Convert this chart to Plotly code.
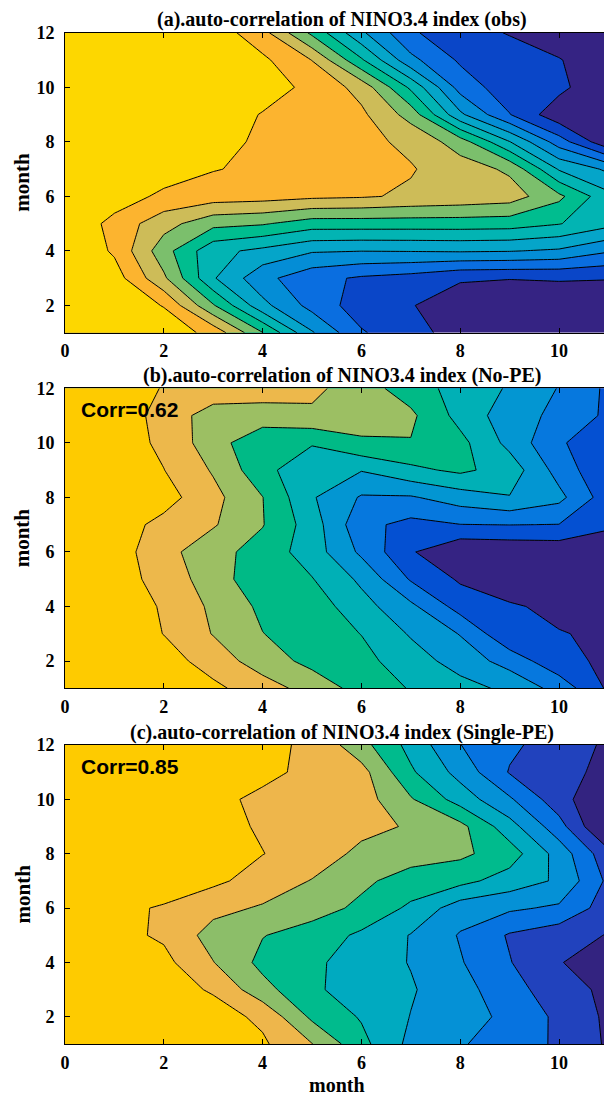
import plotly.graph_objects as go

# axes: lead month (x) and start month (y)
lead = list(range(12))
month = list(range(1, 13))

# (a) observed auto-correlation, one row per month 1..12, columns = lead 0..11
obs = [
    [1.0, 0.98, 0.962, 0.868, 0.603, 0.31, 0.11, 0.03, -0.035, -0.06, -0.07, -0.08],
    [1.0, 0.967, 0.895, 0.61, 0.33, 0.165, 0.05, 0.005, -0.05, -0.06, -0.06, -0.06],
    [1.0, 0.948, 0.718, 0.41, 0.23, 0.133, 0.086, 0.06, 0.01, 0.003, 0.008, 0.004],
    [1.0, 0.885, 0.64, 0.43, 0.374, 0.31, 0.302, 0.305, 0.31, 0.305, 0.285, 0.21],
    [1.0, 0.863, 0.74, 0.63, 0.61, 0.55, 0.551, 0.55, 0.55, 0.545, 0.505, 0.43],
    [1.0, 0.96, 0.875, 0.85, 0.84, 0.82, 0.81, 0.786, 0.77, 0.749, 0.623, 0.43],
    [1.0, 0.99, 0.96, 0.905, 0.88, 0.86, 0.83, 0.807, 0.75, 0.682, 0.39, 0.28],
    [1.0, 0.99, 0.97, 0.93, 0.885, 0.855, 0.825, 0.78, 0.65, 0.404, 0.15, -0.08],
    [1.0, 0.99, 0.98, 0.95, 0.895, 0.85, 0.82, 0.66, 0.32, 0.104, -0.07, -0.08],
    [1.0, 0.99, 0.98, 0.96, 0.94, 0.878, 0.764, 0.48, 0.16, 0.04, 0.03, -0.1],
    [1.0, 0.99, 0.98, 0.96, 0.92, 0.798, 0.514, 0.228, 0.085, 0.04, 0.005, -0.06],
    [1.0, 0.99, 0.98, 0.96, 0.835, 0.578, 0.318, 0.115, 0.032, -0.005, -0.05, -0.08],
]

# (b) No-PE experiment
no_pe = [
    [1.0, 0.99, 0.96, 0.92, 0.851, 0.755, 0.666, 0.593, 0.536, 0.478, 0.363, 0.183],
    [1.0, 0.975, 0.94, 0.86, 0.745, 0.674, 0.63, 0.547, 0.458, 0.36, 0.23, 0.18],
    [1.0, 0.965, 0.898, 0.795, 0.702, 0.65, 0.598, 0.49, 0.395, 0.215, 0.206, 0.18],
    [1.0, 0.96, 0.89, 0.78, 0.679, 0.655, 0.538, 0.423, 0.259, 0.215, 0.17, 0.15],
    [1.0, 0.95, 0.86, 0.75, 0.63, 0.605, 0.48, 0.29, 0.187, 0.12, 0.10, 0.10],
    [1.0, 0.95, 0.835, 0.735, 0.66, 0.55, 0.38, 0.21, 0.11, 0.12, 0.13, 0.16],
    [1.0, 0.95, 0.87, 0.81, 0.705, 0.55, 0.33, 0.27, 0.298, 0.302, 0.298, 0.21],
    [1.0, 0.98, 0.94, 0.83, 0.702, 0.51, 0.39, 0.39, 0.45, 0.495, 0.428, 0.243],
    [1.0, 0.97, 0.902, 0.79, 0.634, 0.52, 0.505, 0.576, 0.62, 0.558, 0.36, 0.21],
    [1.0, 0.96, 0.877, 0.745, 0.62, 0.61, 0.687, 0.695, 0.63, 0.47, 0.31, 0.245],
    [1.0, 0.96, 0.865, 0.75, 0.76, 0.78, 0.74, 0.72, 0.565, 0.447, 0.374, 0.28],
    [1.0, 0.95, 0.895, 0.87, 0.845, 0.825, 0.745, 0.65, 0.56, 0.49, 0.395, 0.28],
]

# (c) Single-PE experiment
single_pe = [
    [1.0, 0.99, 0.98, 0.95, 0.915, 0.803, 0.63, 0.473, 0.41, 0.348, 0.286, 0.186],
    [1.0, 0.98, 0.96, 0.94, 0.88, 0.68, 0.591, 0.497, 0.439, 0.378, 0.278, 0.181],
    [1.0, 0.97, 0.94, 0.89, 0.735, 0.618, 0.55, 0.51, 0.433, 0.346, 0.234, 0.182],
    [1.0, 0.97, 0.928, 0.803, 0.672, 0.62, 0.553, 0.495, 0.408, 0.305, 0.205, 0.15],
    [1.0, 0.93, 0.885, 0.759, 0.704, 0.657, 0.581, 0.495, 0.392, 0.29, 0.24, 0.195],
    [1.0, 0.93, 0.888, 0.83, 0.789, 0.74, 0.68, 0.58, 0.447, 0.416, 0.384, 0.249],
    [1.0, 0.99, 0.97, 0.92, 0.86, 0.795, 0.719, 0.66, 0.63, 0.555, 0.485, 0.278],
    [1.0, 0.99, 0.97, 0.94, 0.902, 0.86, 0.774, 0.74, 0.72, 0.65, 0.46, 0.23],
    [1.0, 0.99, 0.97, 0.93, 0.89, 0.86, 0.83, 0.79, 0.73, 0.54, 0.34, 0.07],
    [1.0, 0.99, 0.97, 0.92, 0.883, 0.86, 0.845, 0.71, 0.556, 0.414, 0.24, 0.10],
    [1.0, 0.99, 0.98, 0.96, 0.92, 0.88, 0.836, 0.615, 0.465, 0.293, 0.23, 0.175],
    [1.0, 0.99, 0.98, 0.96, 0.921, 0.885, 0.735, 0.567, 0.402, 0.32, 0.25, 0.184],
]

titles = [
    "(a).auto-correlation of NINO3.4 index (obs)",
    "(b).auto-correlation of NINO3.4 index (No-PE)",
    "(c).auto-correlation of NINO3.4 index (Single-PE)",
]
corr_labels = [None, "Corr=0.62", "Corr=0.85"]
x_ticks = [0, 2, 4, 6, 8, 10]
y_ticks = [2, 4, 6, 8, 10, 12]

# band colours, lowest band first
colors_a = ["#352383", "#0a46c8", "#0a6ee0", "#048dd6", "#05a5c9", "#02b4b3",
            "#00bd8f", "#7bbf6c", "#cdbc58", "#fcb42f", "#fdd700"]
colors_b = ["#352383", "#0450d2", "#0678de", "#0396d2", "#00b0b6", "#00ba86",
            "#9cbf63", "#edb84b", "#fecb00"]
colors_c = ["#332380", "#2142bd", "#0673e0", "#0591d6", "#00aac0", "#00bb8d",
            "#8cbe69", "#eeb64b", "#fecb00"]

# contour levels per panel (start, end, step)
levels = [(0.0, 0.905, 0.1), (0.2, 0.905, 0.1), (0.2, 0.905, 0.1)]

W, H = 604, 1098
L_MARGIN = 65
plot_w = W - L_MARGIN
px_per_unit = 49.4
# vertical pixel extents of the three plot areas (top, bottom)
panel_px = [(32.8, 332.7), (388.3, 688.3), (745.0, 1044.0)]

serif = "Liberation Serif, Times New Roman, serif"
sans = "Liberation Sans, Arial, sans-serif"


def step_scale(cols):
    n = len(cols) - 1
    return [[i / n, c] for i, c in enumerate(cols)]


fig = go.Figure()
datasets = [obs, no_pe, single_pe]
palettes = [colors_a, colors_b, colors_c]

for i, (z, cols, (s, e, d)) in enumerate(zip(datasets, palettes, levels)):
    sfx = "" if i == 0 else str(i + 1)
    fig.add_trace(go.Contour(
        x=lead, y=month, z=z,
        xaxis="x" + sfx, yaxis="y" + sfx,
        autocontour=False,
        contours=dict(start=s, end=e, size=d, coloring="fill", showlines=True),
        colorscale=step_scale(cols),
        line=dict(color="black", width=1, smoothing=0),
        showscale=False,
        hoverinfo="skip",
    ))

layout = dict(
    width=W, height=H,
    margin=dict(l=L_MARGIN, r=0, t=0, b=0, autoexpand=False),
    paper_bgcolor="white", plot_bgcolor="white",
    showlegend=False,
)

tick_font = dict(family=serif, size=18, color="black", weight="bold")
annotations = []
for i, (top, bot) in enumerate(panel_px):
    sfx = "" if i == 0 else str(i + 1)
    dom = [1 - bot / H, 1 - top / H]
    layout["xaxis" + sfx] = dict(
        domain=[0, 1], anchor="y" + sfx,
        range=[0, plot_w / px_per_unit],
        tickvals=x_ticks, ticks="inside", ticklen=5, tickwidth=1, tickcolor="black",
        showline=True, linecolor="black", linewidth=1, mirror="ticks",
        showgrid=False, zeroline=False,
        tickfont=tick_font, ticklabelstandoff=2,
    )
    layout["yaxis" + sfx] = dict(
        domain=dom, anchor="x" + sfx,
        range=[1, 12],
        tickvals=y_ticks, ticks="inside", ticklen=5, tickwidth=1, tickcolor="black",
        showline=True, linecolor="black", linewidth=1, mirror=False,
        showgrid=False, zeroline=False,
        tickfont=tick_font, ticklabelstandoff=6,
    )
    # panel title
    annotations.append(dict(
        text="<b>%s</b>" % titles[i], xref="paper", yref="paper",
        x=(342 - L_MARGIN) / plot_w, y=1 - (top - 13) / H,
        xanchor="center", yanchor="middle", showarrow=False,
        font=dict(family=serif, size=20, color="black"),
    ))
    # y-axis label
    annotations.append(dict(
        text="<b>month</b>", xref="paper", yref="paper",
        x=(22 - L_MARGIN) / plot_w, y=1 - ((top + bot) / 2) / H,
        xanchor="center", yanchor="middle", showarrow=False, textangle=-90,
        font=dict(family=serif, size=21, color="black"),
    ))
    if corr_labels[i]:
        annotations.append(dict(
            text="<b>%s</b>" % corr_labels[i], xref="paper", yref="paper",
            x=(79 - L_MARGIN) / plot_w, y=1 - (top + 21) / H,
            xanchor="left", yanchor="middle", showarrow=False,
            font=dict(family=sans, size=21, color="black"),
        ))

annotations.append(dict(
    text="<b>month</b>", xref="paper", yref="paper",
    x=(337 - L_MARGIN) / plot_w, y=1 - 1085 / H,
    xanchor="center", yanchor="middle", showarrow=False,
    font=dict(family=serif, size=20, color="black"),
))

layout["annotations"] = annotations
fig.update_layout(**layout)
fig.write_html("out.html")
